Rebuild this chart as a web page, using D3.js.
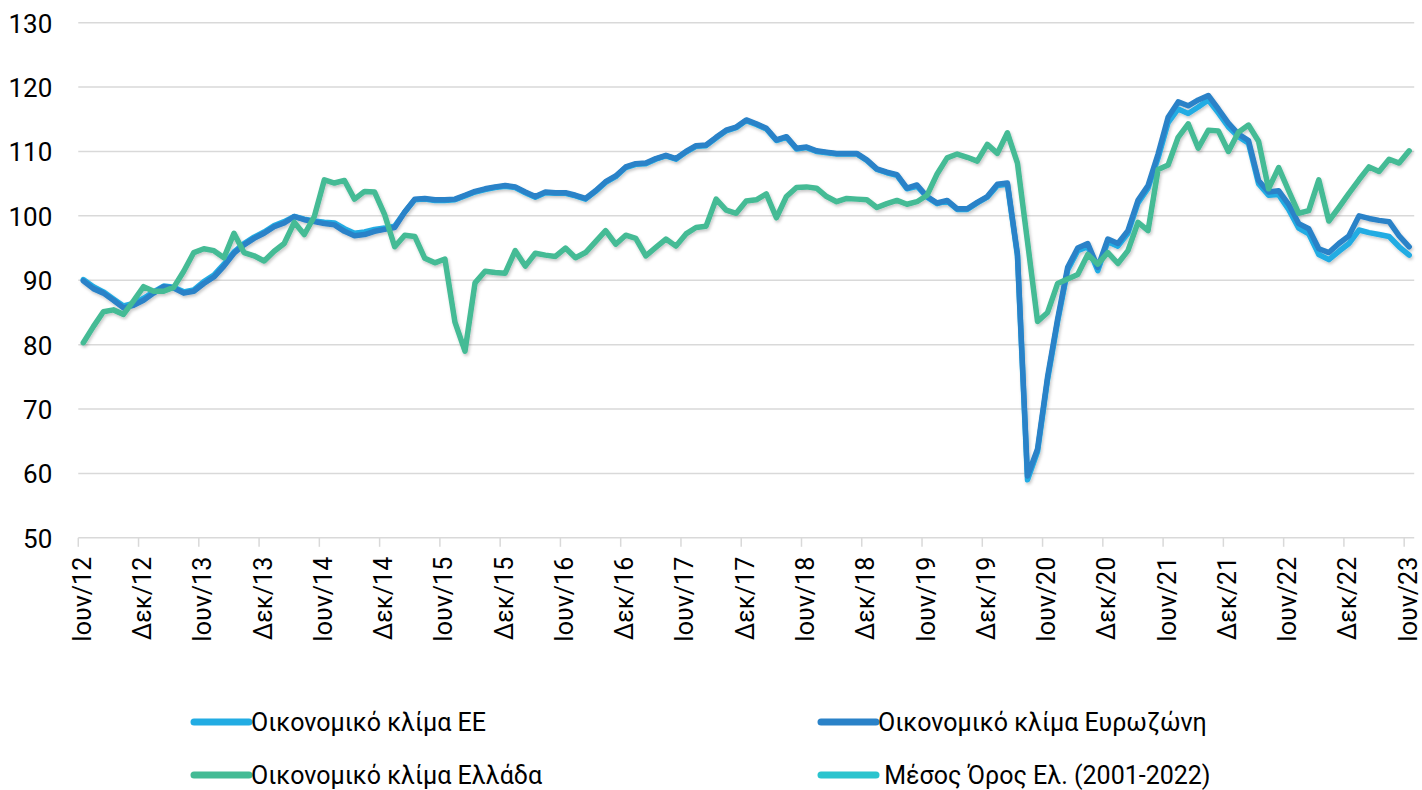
<!DOCTYPE html>
<html>
<head>
<meta charset="utf-8">
<script src="https://cdn.jsdelivr.net/npm/d3@7"></script>
<style>
  html, body { margin: 0; padding: 0; background: #ffffff; }
  svg { display: block; }
</style>
</head>
<body>
<script>
// ---------------- DATA ----------------
const monthNames = ["Ιαν","Φεβ","Μαρ","Απρ","Μαΐ","Ιουν","Ιουλ","Αυγ","Σεπ","Οκτ","Νοε","Δεκ"];
// categories: monthly, June 2012 ... June 2023 (133 months)
const categories = [];
for (let k = 0; k < 133; k++) {
  const m = (5 + k) % 12, yr = 12 + Math.floor((5 + k) / 12);
  categories.push(monthNames[m] + "/" + yr);
}
const tickLabels = ["Ιουν/12","Δεκ/12","Ιουν/13","Δεκ/13","Ιουν/14","Δεκ/14","Ιουν/15","Δεκ/15",
  "Ιουν/16","Δεκ/16","Ιουν/17","Δεκ/17","Ιουν/18","Δεκ/18","Ιουν/19","Δεκ/19","Ιουν/20","Δεκ/20",
  "Ιουν/21","Δεκ/21","Ιουν/22","Δεκ/22","Ιουν/23"];
const yTicks = [50, 60, 70, 80, 90, 100, 110, 120, 130];

const seriesNames = ["Οικονομικό κλίμα ΕΕ", "Οικονομικό κλίμα Ευρωζώνη", "Οικονομικό κλίμα Ελλάδα", " Μέσος Όρος Ελ. (2001-2022)"];

const euValues = [
  90.1, 89.0, 88.2, 87.1, 86.0, 86.4, 87.2, 88.2, 89.1, 88.9, 88.2, 88.5,
  89.8, 90.8, 92.5, 94.4, 95.7, 96.7, 97.5, 98.5, 99.1, 99.9, 99.5, 99.2,
  99.0, 98.9, 98.0, 97.3, 97.5, 97.9, 98.1, 98.4, 100.6, 102.5, 102.6, 102.4,
  102.4, 102.5, 103.1, 103.7, 104.1, 104.4, 104.6, 104.4, 103.6, 102.9, 103.6, 103.5,
  103.5, 103.1, 102.6, 103.8, 105.2, 106.1, 107.5, 108.0, 108.1, 108.8, 109.3, 108.8,
  109.9, 110.8, 110.9, 112.1, 113.2, 113.7, 114.8, 114.2, 113.5, 111.7, 112.2, 110.4,
  110.6, 110.0, 109.8, 109.6, 109.6, 109.6, 108.6, 107.2, 106.7, 106.3, 104.2, 104.6,
  102.9, 101.9, 102.3, 101.0, 101.0, 102.0, 102.9, 104.7, 104.9, 93.8, 59.0, 63.4,
  74.6, 83.6, 91.6, 94.6, 95.2, 91.5, 96.0, 95.3, 97.3, 102.0, 104.3, 109.0,
  114.5, 116.6, 115.9, 116.9, 118.0, 116.0, 113.8, 112.3, 111.3, 105.0, 103.2, 103.3,
  101.0, 98.1, 97.2, 94.0, 93.2, 94.5, 95.7, 97.8, 97.4, 97.1, 96.8, 95.2,
  93.9
];
const eaValues = [
  89.9, 88.7, 88.0, 86.9, 85.7, 86.1, 86.9, 88.0, 89.0, 88.8, 88.0, 88.3,
  89.5, 90.5, 92.2, 94.2, 95.5, 96.5, 97.3, 98.3, 98.9, 99.9, 99.4, 99.1,
  98.8, 98.6, 97.6, 96.9, 97.1, 97.6, 97.9, 98.2, 100.6, 102.6, 102.7, 102.5,
  102.5, 102.6, 103.2, 103.8, 104.2, 104.5, 104.7, 104.5, 103.7, 103.0, 103.7, 103.6,
  103.6, 103.2, 102.7, 103.9, 105.3, 106.2, 107.6, 108.1, 108.2, 108.9, 109.4, 108.9,
  110.0, 110.9, 111.0, 112.2, 113.3, 113.8, 114.9, 114.3, 113.6, 111.8, 112.3, 110.5,
  110.7, 110.1, 109.9, 109.7, 109.7, 109.7, 108.7, 107.3, 106.8, 106.4, 104.3, 104.8,
  103.0, 102.0, 102.4, 101.1, 101.1, 102.1, 103.0, 104.9, 105.1, 94.1, 59.6, 63.8,
  75.0, 84.0, 92.0, 95.0, 95.7, 92.0, 96.4, 95.7, 97.7, 102.4, 104.7, 109.6,
  115.3, 117.7, 117.1, 118.0, 118.7, 116.6, 114.4, 112.7, 111.7, 105.5, 103.7, 103.9,
  101.8, 98.8, 98.0, 94.9, 94.3, 95.7, 96.9, 100.0, 99.6, 99.3, 99.1, 96.9,
  95.2
];
const grValues = [
  80.3, 82.8, 85.1, 85.4, 84.7, 86.8, 89.0, 88.3, 88.3, 88.9, 91.4, 94.3,
  94.9, 94.6, 93.5, 97.3, 94.3, 93.8, 93.0, 94.5, 95.7, 99.0, 97.1, 99.9,
  105.6, 105.1, 105.5, 102.6, 103.8, 103.7, 100.2, 95.2, 97.0, 96.8, 93.4, 92.7,
  93.3, 83.5, 79.0, 89.6, 91.4, 91.2, 91.1, 94.6, 92.2, 94.2, 93.9, 93.7,
  95.0, 93.5, 94.3, 96.0, 97.7, 95.6, 97.0, 96.5, 93.8, 95.1, 96.4, 95.3,
  97.2, 98.2, 98.4, 102.6, 100.9, 100.4, 102.3, 102.5, 103.4, 99.7, 103.0, 104.4,
  104.5, 104.3, 103.0, 102.2, 102.7, 102.6, 102.5, 101.3, 101.9, 102.4, 101.8, 102.2,
  103.2, 106.5, 109.0, 109.6, 109.1, 108.5, 111.1, 109.7, 112.9, 108.2, 96.0, 83.6,
  85.0, 89.5, 90.2, 90.9, 94.0, 92.5, 94.3, 92.6, 94.6, 99.0, 97.7, 107.2,
  107.9, 112.2, 114.3, 110.5, 113.3, 113.2, 110.0, 113.0, 114.1, 111.6, 104.2, 107.5,
  103.9, 100.4, 100.8, 105.6, 99.2, 101.3, 103.5, 105.6, 107.6, 106.9, 108.8, 108.2,
  110.1
];
// long-run average series: not visible inside the plotted range of the reference
const avgValues = [];

const colors = ["#22ACE3", "#2A82C8", "#44BB95", "#2BC4CE"];

// ---------------- CHART ----------------
const W = 1422, H = 790;
const svg = d3.select("body").append("svg").attr("width", W).attr("height", H);

const defs = svg.append("defs");
const f = defs.append("filter").attr("id", "shadow").attr("x", "-5%").attr("y", "-5%").attr("width", "110%").attr("height", "120%");
f.append("feDropShadow").attr("dx", 1.2).attr("dy", 2).attr("stdDeviation", 1.4)
  .attr("flood-color", "#000").attr("flood-opacity", 0.22);

const x = d3.scalePoint().domain(d3.range(categories.length)).range([83.3, 1409.2]);
const halfStep = x.step() / 2;
const y = d3.scaleLinear().domain([50, 130]).range([537.8, 22.7]);
const plotLeft = x(0) - halfStep, plotRight = x(categories.length - 1) + halfStep;

// gridlines
svg.append("g").selectAll("line").data(yTicks).join("line")
  .attr("x1", plotLeft).attr("x2", plotRight)
  .attr("y1", d => y(d)).attr("y2", d => y(d))
  .attr("stroke", "#d9d9d9").attr("stroke-width", 1.5);

// y axis labels
const yAxis = d3.axisLeft(y).tickValues(yTicks).tickSize(0).tickPadding(26);
const gy = svg.append("g").attr("transform", `translate(${plotLeft},0)`).call(yAxis);
gy.select(".domain").remove();
gy.selectAll("text").attr("font-family", "Roboto, 'Noto Sans', sans-serif")
  .attr("font-size", 26).attr("fill", "#000").attr("dy", "0.36em");

// x axis: tick marks on category boundaries, labels centred on categories
const tickIdx = tickLabels.map((t, k) => k * 6);
svg.append("g").selectAll("line").data(tickIdx).join("line")
  .attr("x1", d => x(d) - halfStep).attr("x2", d => x(d) - halfStep)
  .attr("y1", y(50)).attr("y2", y(50) + 9)
  .attr("stroke", "#d9d9d9").attr("stroke-width", 1.5);

const xAxis = d3.axisBottom(x).tickValues(tickIdx).tickFormat((d, k) => tickLabels[k]).tickSize(0);
const gx = svg.append("g").attr("transform", `translate(0,${y(50)})`).call(xAxis);
gx.select(".domain").remove();
gx.selectAll("text")
  .attr("font-family", "Roboto, 'Noto Sans', sans-serif")
  .attr("font-size", 25).attr("fill", "#000")
  .attr("text-anchor", "end")
  .attr("transform", "rotate(-90)")
  .attr("x", -19).attr("y", -2).attr("dy", "0.36em");

// lines
const line = d3.line().x((d, i) => x(i)).y(d => y(d));
const series = [euValues, eaValues, grValues, avgValues];
const gl = svg.append("g").attr("filter", "url(#shadow)");
series.forEach((vals, s) => {
  if (!vals.length) return;
  gl.append("path").datum(vals)
    .attr("d", line)
    .attr("fill", "none")
    .attr("stroke", colors[s])
    .attr("stroke-width", 5.5)
    .attr("stroke-linejoin", "round")
    .attr("stroke-linecap", "round");
});

// legend
const legendPos = [
  {x: 194, y: 722}, {x: 821, y: 722},
  {x: 194, y: 775}, {x: 821, y: 775}
];
const lg = svg.append("g");
seriesNames.forEach((name, s) => {
  const p = legendPos[s];
  lg.append("line").attr("x1", p.x).attr("x2", p.x + 55).attr("y1", p.y).attr("y2", p.y)
    .attr("stroke", colors[s]).attr("stroke-width", 7).attr("stroke-linecap", "round");
  lg.append("text").attr("x", p.x + 57).attr("y", p.y).attr("dy", "0.36em")
    .attr("font-family", "Roboto, 'Noto Sans', sans-serif").attr("font-size", 25)
    .attr("fill", "#000").attr("xml:space", "preserve").style("white-space", "pre")
    .text(name);
});
</script>
</body>
</html>
